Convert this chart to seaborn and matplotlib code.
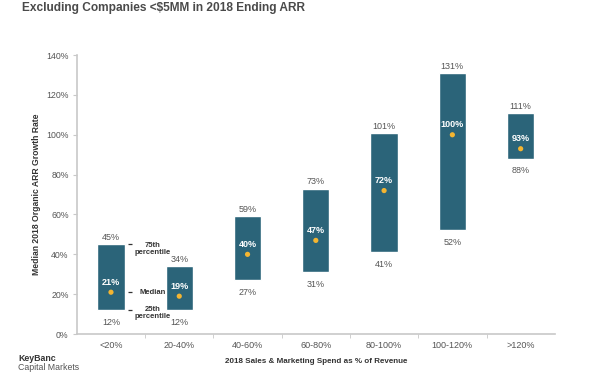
import pandas as pd
import matplotlib.pyplot as plt
import seaborn as sns

# Chart data
categories = ["<20%", "20-40%", "40-60%", "60-80%", "80-100%", "100-120%", ">120%"]
p25 = [12, 12, 27, 31, 41, 52, 88]
p75 = [45, 34, 59, 73, 101, 131, 111]
median = [21, 19, 40, 47, 72, 100, 93]
y_ticks = [0, 20, 40, 60, 80, 100, 120, 140]

df = pd.DataFrame({"bucket": categories, "low": p25, "high": p75, "median": median})
df["span"] = df["high"] - df["low"]

sns.set_style("white")
plt.rcParams["font.family"] = ["Liberation Sans", "DejaVu Sans"]

bar_color = "#2b6479"
dot_color = "#f4b531"
text_gray = "#555555"
axis_gray = "#c8c8c8"

fig = plt.figure(figsize=(6.05, 3.72), dpi=100)
ax = fig.add_axes([0.127, 0.102, 0.79, 0.75])

# floating bars from 25th to 75th percentile
sns.barplot(data=df, x="bucket", y="span", bottom=df["low"], color=bar_color,
            width=0.4, errorbar=None, saturation=1, ax=ax)
sns.scatterplot(data=df, x="bucket", y="median", color=dot_color, s=14,
                edgecolor="none", zorder=5, ax=ax)

for i, row in df.iterrows():
    ax.annotate(f"{row['high']}%", (i, row["high"]), xytext=(0, 1.5),
                textcoords="offset points", ha="center", va="bottom",
                fontsize=6.5, color=text_gray)
    ax.annotate(f"{row['low']}%", (i, row["low"]), xytext=(0, -5.5),
                textcoords="offset points", ha="center", va="top",
                fontsize=6.5, color=text_gray)
    ax.annotate(f"{row['median']}%", (i, row["median"]), xytext=(0, 4),
                textcoords="offset points", ha="center", va="bottom",
                fontsize=6.5, color="white", fontweight="bold")

# legend-style notes beside the first bar
notes = [(p75[0], "75th\npercentile", -3), (median[0], "Median", 0), (p25[0], "25th\npercentile", -2)]
for yv, txt, dy in notes:
    ax.plot([0.25, 0.31], [yv, yv], color="#333333", lw=0.9, solid_capstyle="butt")
    ax.annotate(txt, (0.61, yv), xytext=(0, dy), textcoords="offset points",
                ha="center", va="center", fontsize=5.5, color="#333333",
                fontweight="bold", linespacing=1.0)

ax.set_ylim(0, 140)
ax.set_xlim(-0.5, len(categories) - 0.5)
ax.set_yticks(y_ticks)
ax.set_yticklabels([f"{t}%" for t in y_ticks])
ax.set_xticks(range(len(categories)))
ax.set_xticklabels(categories)
ax.set_xticks([i + 0.5 for i in range(len(categories) - 1)], minor=True)
ax.tick_params(axis="x", which="major", length=0, labelsize=6.5, labelcolor=text_gray, pad=5)
ax.tick_params(axis="x", which="minor", length=3, color=axis_gray, bottom=True)
ax.tick_params(axis="y", length=3, color=axis_gray, labelsize=6.3, labelcolor=text_gray,
               left=True, pad=3)

ax.set_xlabel("2018 Sales & Marketing Spend as % of Revenue", fontsize=5.8,
              fontweight="bold", color="#333333", labelpad=6)
ax.set_ylabel("Median 2018 Organic ARR Growth Rate", fontsize=6.2,
              fontweight="bold", color="#333333", labelpad=4)

sns.despine(ax=ax)
for side in ["left", "bottom"]:
    ax.spines[side].set_color(axis_gray)
    ax.spines[side].set_linewidth(1.2)

fig.text(0.036, 0.995, "Excluding Companies <$5MM in 2018 Ending ARR", fontsize=8.6,
         fontweight="bold", color="#4a4a4a", ha="left", va="top")
fig.text(0.03, 0.025, "KeyBanc", fontsize=6.3, fontweight="bold", color="#333333",
         ha="left", va="bottom")
fig.text(0.03, 0.0, "Capital Markets", fontsize=6.3, color="#555555",
         ha="left", va="bottom")

fig.savefig("out.png", dpi=100)
